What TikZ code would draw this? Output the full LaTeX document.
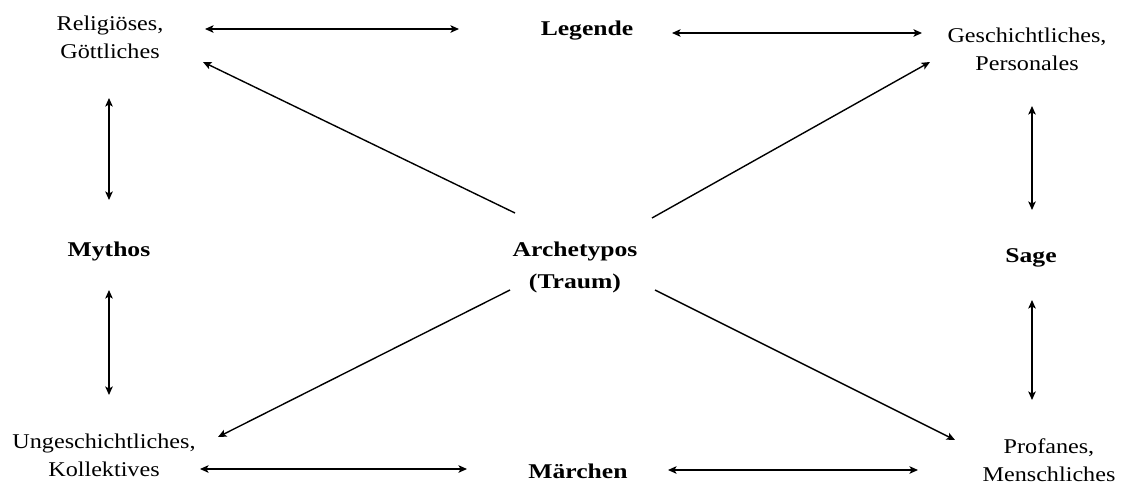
\documentclass[tikz,border=0pt]{standalone}
\usepackage{fontspec}
\setmainfont{Liberation Serif}
\newfontfamily\regf{Liberation Serif}[FakeStretch=1.15]
\newfontfamily\boldf{Liberation Serif}[FakeStretch=1.22]
\usetikzlibrary{arrows.meta,calc}
\begin{document}
\begin{tikzpicture}[x=1pt,y=-1pt,
  lbl/.style={align=center,inner sep=0pt,font=\regf\fontsize{21}{28}\selectfont},
  bld/.style={align=center,inner sep=0pt,font=\boldf\bfseries\fontsize{21}{32}\selectfont},
  tip/.tip={Stealth[length=8.5pt,width=7.5pt,inset=2pt]},
  con/.style={line width=1.5pt,tip-tip},
  one/.style={line width=1.4pt,-tip}]
\useasboundingbox (0,0) rectangle (1125,485);
\fill[white] (0,0) rectangle (1125,485);
\node[lbl] (rel) at (110,37) {Religiöses,\\Göttliches};
\node[bld] (leg) at (587,31) {Legende};
\node[lbl] (ges) at (1027,49) {Geschichtliches,\\Personales};
\node[bld] (myt) at (109,251) {Mythos};
\node[bld] (arc) at (575,267) {Archetypos\\(Traum)};
\node[bld] (sag) at (1031,258) {Sage};
\node[lbl] (ung) at (104,455) {Ungeschichtliches,\\Kollektives};
\node[bld] (mar) at (578,471) {Märchen};
\node[lbl] (pro) at (1049,460) {Profanes,\\Menschliches};
% horizontal
\draw[con] ($(rel)+(95,-8)$) -- ($(leg)+(-128,-2)$);
\draw[con] ($(leg)+(85,2)$) -- ($(ges)+(-105,-16)$);
\draw[con] ($(ung)+(96,14)$) -- ($(mar)+(-111,-2)$);
\draw[con] ($(mar)+(90,-1)$) -- ($(pro)+(-131,10)$);
% vertical
\draw[con] ($(rel)+(-1,61)$) -- ($(myt)+(0,-51)$);
\draw[con] ($(myt)+(0,39)$) -- ($(ung)+(5,-60)$);
\draw[con] ($(ges)+(5,57)$) -- ($(sag)+(1,-48)$);
\draw[con] ($(sag)+(1,42)$) -- ($(pro)+(-17,-60)$);
% diagonals
\draw[one] ($(arc)+(-60,-54)$) -- ($(rel)+(93,25)$);
\draw[one] ($(arc)+(77,-49)$) -- ($(ges)+(-97,13)$);
\draw[one] ($(arc)+(-65,23)$) -- ($(ung)+(114,-18)$);
\draw[one] ($(arc)+(80,23)$) -- ($(pro)+(-94,-20)$);
\end{tikzpicture}
\end{document}
